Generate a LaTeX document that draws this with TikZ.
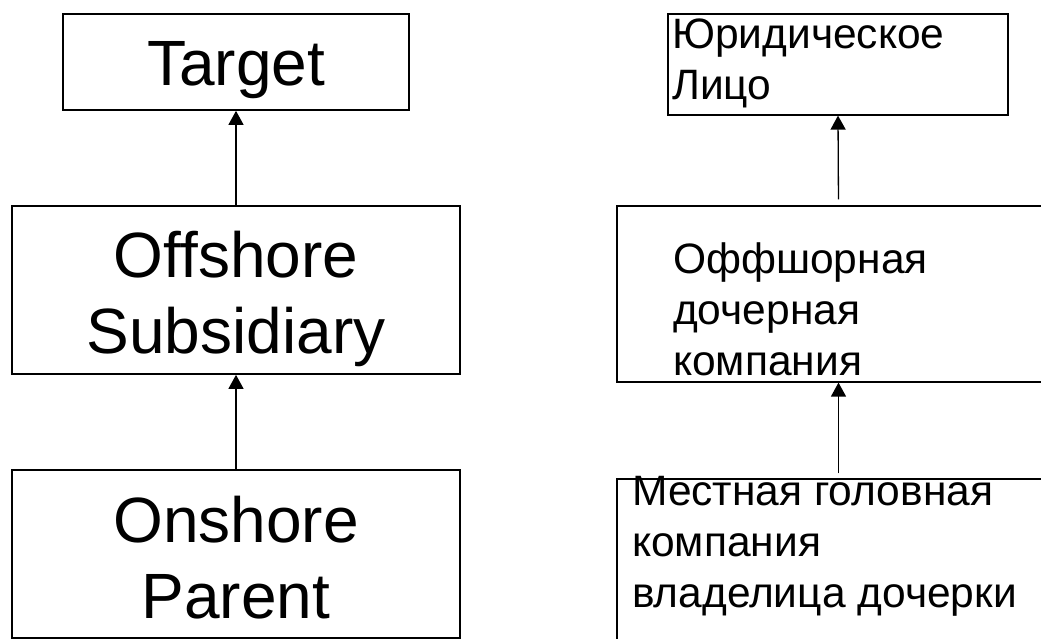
\documentclass[tikz,border=0pt]{standalone}
\usepackage{fontspec}
\setmainfont{Liberation Sans}
\usetikzlibrary{arrows.meta,positioning}

\begin{document}
\begin{tikzpicture}[x=1pt,y=-1pt,>={Triangle[width=15pt,length=14pt]},
    box/.style={draw,line width=1.7pt,inner sep=0pt},
    rubox/.style={draw,line width=1.2pt,inner sep=0pt},
    entxt/.style={font=\fontsize{64}{76}\selectfont,align=center,anchor=base,inner sep=0pt},
    rutxt/.style={font=\fontsize{42.5}{51}\selectfont,align=left,anchor=base west,inner sep=0pt},
    link/.style={->,line width=1.3pt}]
    \useasboundingbox (0,0) rectangle (1041,639);

    % english chain (text anchored at the last line's baseline)
    \node[box,minimum width=346pt,minimum height=96pt] (target) at (236,62) {};
    \node[box,minimum width=448pt,minimum height=168pt] (offshore) at (236,290) {};
    \node[box,minimum width=448pt,minimum height=168pt] (onshore) at (236,554) {};
    \node[entxt] (targettxt) at (236,86) {Target};
    \node[entxt] (offshoretxt) at (236,353) {Offshore\\Subsidiary};
    \node[entxt] (onshoretxt) at (236,618) {Onshore\\Parent};

    % russian chain
    \node[rubox,minimum width=340pt,minimum height=101pt] (legal) at (838,64.5) {};
    \node[rubox,minimum width=443pt,minimum height=176pt] (offru) at (838.5,294) {};
    \node[rubox,minimum width=443pt,minimum height=181pt] (localru) at (838.5,569.5) {};
    \node[rutxt] (legaltxt) at (672,100) {Юридическое\\Лицо};
    \node[rutxt] (offrutxt) at (673,375) {Оффшорная\\дочерная\\компания};
    \node[rutxt] (localrutxt) at (632,607) {Местная головная\\компания\\владелица дочерки};

    \path[link] (offshore.north) edge (target.south);
    \path[link] (onshore.north) edge (offshore.south);
    \path[link,shorten <=6pt] (offru.north) edge (legal.south);
    \path[link,shorten <=5pt] (localru.north) edge (offru.south);
\end{tikzpicture}
\end{document}
